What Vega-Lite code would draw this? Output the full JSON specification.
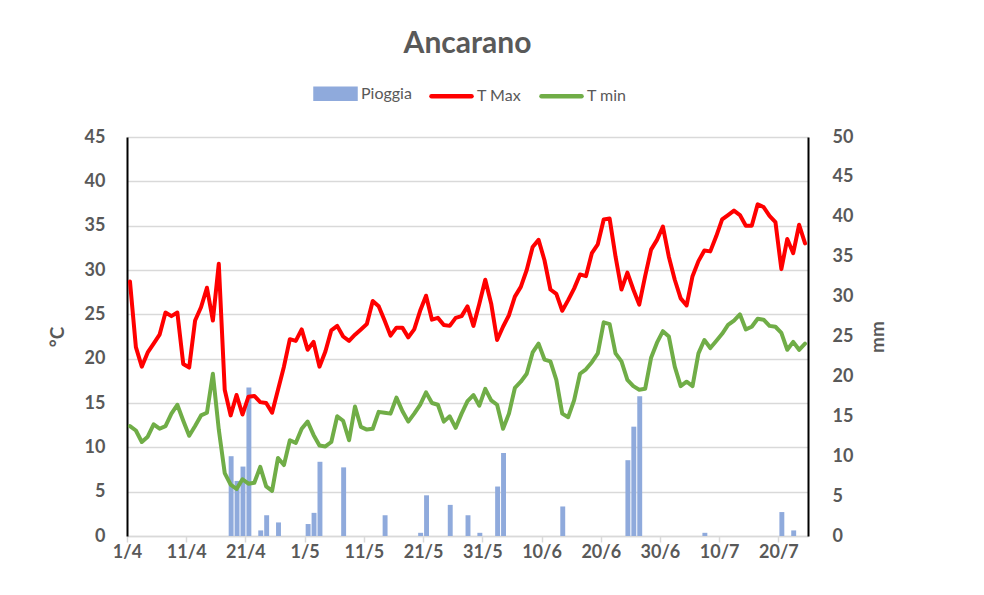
{
  "$schema": "https://vega.github.io/schema/vega-lite/v6.json",
  "width": 681,
  "height": 399,
  "autosize": {"type": "none"},
  "padding": {"left": 127, "top": 137, "right": 176, "bottom": 59},
  "background": "white",
  "config": {"font": "Lato", "view": {"stroke": null}},
  "title": {"text": "Ancarano", "fontSize": 30, "fontWeight": "bold", "color": "#595959", "anchor": "middle", "offset": 12, "font": "Lato"},
  "data": {"values": [
    {"date": "2023-04-01", "tmax": 28.7, "tmin": 12.4, "pioggia": 0},
    {"date": "2023-04-02", "tmax": 21.3, "tmin": 11.9, "pioggia": 0},
    {"date": "2023-04-03", "tmax": 19.1, "tmin": 10.6, "pioggia": 0},
    {"date": "2023-04-04", "tmax": 20.7, "tmin": 11.2, "pioggia": 0},
    {"date": "2023-04-05", "tmax": 21.7, "tmin": 12.6, "pioggia": 0},
    {"date": "2023-04-06", "tmax": 22.7, "tmin": 12.1, "pioggia": 0},
    {"date": "2023-04-07", "tmax": 25.2, "tmin": 12.4, "pioggia": 0},
    {"date": "2023-04-08", "tmax": 24.8, "tmin": 13.8, "pioggia": 0},
    {"date": "2023-04-09", "tmax": 25.2, "tmin": 14.8, "pioggia": 0},
    {"date": "2023-04-10", "tmax": 19.4, "tmin": 13.0, "pioggia": 0},
    {"date": "2023-04-11", "tmax": 19.0, "tmin": 11.3, "pioggia": 0},
    {"date": "2023-04-12", "tmax": 24.3, "tmin": 12.4, "pioggia": 0},
    {"date": "2023-04-13", "tmax": 25.8, "tmin": 13.6, "pioggia": 0},
    {"date": "2023-04-14", "tmax": 28.0, "tmin": 13.9, "pioggia": 0},
    {"date": "2023-04-15", "tmax": 24.3, "tmin": 18.3, "pioggia": 0},
    {"date": "2023-04-16", "tmax": 30.7, "tmin": 12.0, "pioggia": 0},
    {"date": "2023-04-17", "tmax": 16.5, "tmin": 7.1, "pioggia": 0},
    {"date": "2023-04-18", "tmax": 13.6, "tmin": 5.8, "pioggia": 10.0},
    {"date": "2023-04-19", "tmax": 15.9, "tmin": 5.3, "pioggia": 6.9},
    {"date": "2023-04-20", "tmax": 13.7, "tmin": 6.4, "pioggia": 8.7},
    {"date": "2023-04-21", "tmax": 15.7, "tmin": 5.9, "pioggia": 18.6},
    {"date": "2023-04-22", "tmax": 15.8, "tmin": 6.0, "pioggia": 0},
    {"date": "2023-04-23", "tmax": 15.1, "tmin": 7.8, "pioggia": 0.7},
    {"date": "2023-04-24", "tmax": 15.0, "tmin": 5.6, "pioggia": 2.6},
    {"date": "2023-04-25", "tmax": 13.9, "tmin": 5.1, "pioggia": 0},
    {"date": "2023-04-26", "tmax": 16.5, "tmin": 8.8, "pioggia": 1.7},
    {"date": "2023-04-27", "tmax": 19.1, "tmin": 8.0, "pioggia": 0},
    {"date": "2023-04-28", "tmax": 22.2, "tmin": 10.8, "pioggia": 0},
    {"date": "2023-04-29", "tmax": 22.0, "tmin": 10.5, "pioggia": 0},
    {"date": "2023-04-30", "tmax": 23.3, "tmin": 12.1, "pioggia": 0},
    {"date": "2023-05-01", "tmax": 21.0, "tmin": 12.9, "pioggia": 1.5},
    {"date": "2023-05-02", "tmax": 21.9, "tmin": 11.4, "pioggia": 2.9},
    {"date": "2023-05-03", "tmax": 19.1, "tmin": 10.2, "pioggia": 9.3},
    {"date": "2023-05-04", "tmax": 20.8, "tmin": 10.1, "pioggia": 0},
    {"date": "2023-05-05", "tmax": 23.2, "tmin": 10.6, "pioggia": 0},
    {"date": "2023-05-06", "tmax": 23.7, "tmin": 13.5, "pioggia": 0},
    {"date": "2023-05-07", "tmax": 22.5, "tmin": 13.0, "pioggia": 8.6},
    {"date": "2023-05-08", "tmax": 22.0, "tmin": 10.8, "pioggia": 0},
    {"date": "2023-05-09", "tmax": 22.7, "tmin": 14.6, "pioggia": 0},
    {"date": "2023-05-10", "tmax": 23.3, "tmin": 12.3, "pioggia": 0},
    {"date": "2023-05-11", "tmax": 23.9, "tmin": 12.0, "pioggia": 0},
    {"date": "2023-05-12", "tmax": 26.5, "tmin": 12.1, "pioggia": 0},
    {"date": "2023-05-13", "tmax": 25.9, "tmin": 14.0, "pioggia": 0},
    {"date": "2023-05-14", "tmax": 24.3, "tmin": 13.9, "pioggia": 2.6},
    {"date": "2023-05-15", "tmax": 22.6, "tmin": 13.8, "pioggia": 0},
    {"date": "2023-05-16", "tmax": 23.5, "tmin": 15.6, "pioggia": 0},
    {"date": "2023-05-17", "tmax": 23.5, "tmin": 14.1, "pioggia": 0},
    {"date": "2023-05-18", "tmax": 22.4, "tmin": 12.9, "pioggia": 0},
    {"date": "2023-05-19", "tmax": 23.3, "tmin": 13.8, "pioggia": 0},
    {"date": "2023-05-20", "tmax": 25.4, "tmin": 14.8, "pioggia": 0.4},
    {"date": "2023-05-21", "tmax": 27.1, "tmin": 16.2, "pioggia": 5.1},
    {"date": "2023-05-22", "tmax": 24.4, "tmin": 15.0, "pioggia": 0},
    {"date": "2023-05-23", "tmax": 24.6, "tmin": 14.8, "pioggia": 0},
    {"date": "2023-05-24", "tmax": 23.8, "tmin": 12.9, "pioggia": 0},
    {"date": "2023-05-25", "tmax": 23.7, "tmin": 13.5, "pioggia": 3.9},
    {"date": "2023-05-26", "tmax": 24.6, "tmin": 12.2, "pioggia": 0},
    {"date": "2023-05-27", "tmax": 24.8, "tmin": 13.8, "pioggia": 0},
    {"date": "2023-05-28", "tmax": 25.9, "tmin": 15.2, "pioggia": 2.6},
    {"date": "2023-05-29", "tmax": 23.7, "tmin": 15.9, "pioggia": 0},
    {"date": "2023-05-30", "tmax": 26.2, "tmin": 14.7, "pioggia": 0.4},
    {"date": "2023-05-31", "tmax": 28.9, "tmin": 16.6, "pioggia": 0},
    {"date": "2023-06-01", "tmax": 26.2, "tmin": 15.3, "pioggia": 0},
    {"date": "2023-06-02", "tmax": 22.1, "tmin": 14.8, "pioggia": 6.2},
    {"date": "2023-06-03", "tmax": 23.6, "tmin": 12.1, "pioggia": 10.4},
    {"date": "2023-06-04", "tmax": 24.9, "tmin": 13.8, "pioggia": 0},
    {"date": "2023-06-05", "tmax": 27.0, "tmin": 16.7, "pioggia": 0},
    {"date": "2023-06-06", "tmax": 28.1, "tmin": 17.4, "pioggia": 0},
    {"date": "2023-06-07", "tmax": 30.0, "tmin": 18.3, "pioggia": 0},
    {"date": "2023-06-08", "tmax": 32.6, "tmin": 20.7, "pioggia": 0},
    {"date": "2023-06-09", "tmax": 33.4, "tmin": 21.7, "pioggia": 0},
    {"date": "2023-06-10", "tmax": 31.1, "tmin": 19.9, "pioggia": 0},
    {"date": "2023-06-11", "tmax": 27.8, "tmin": 19.7, "pioggia": 0},
    {"date": "2023-06-12", "tmax": 27.3, "tmin": 17.6, "pioggia": 0},
    {"date": "2023-06-13", "tmax": 25.4, "tmin": 13.8, "pioggia": 3.7},
    {"date": "2023-06-14", "tmax": 26.6, "tmin": 13.4, "pioggia": 0},
    {"date": "2023-06-15", "tmax": 27.9, "tmin": 15.3, "pioggia": 0},
    {"date": "2023-06-16", "tmax": 29.5, "tmin": 18.3, "pioggia": 0},
    {"date": "2023-06-17", "tmax": 29.3, "tmin": 18.8, "pioggia": 0},
    {"date": "2023-06-18", "tmax": 31.9, "tmin": 19.6, "pioggia": 0},
    {"date": "2023-06-19", "tmax": 32.9, "tmin": 20.6, "pioggia": 0},
    {"date": "2023-06-20", "tmax": 35.7, "tmin": 24.1, "pioggia": 0},
    {"date": "2023-06-21", "tmax": 35.8, "tmin": 23.9, "pioggia": 0},
    {"date": "2023-06-22", "tmax": 31.5, "tmin": 20.6, "pioggia": 0},
    {"date": "2023-06-23", "tmax": 27.8, "tmin": 19.7, "pioggia": 0},
    {"date": "2023-06-24", "tmax": 29.7, "tmin": 17.6, "pioggia": 9.5},
    {"date": "2023-06-25", "tmax": 27.8, "tmin": 16.9, "pioggia": 13.7},
    {"date": "2023-06-26", "tmax": 26.1, "tmin": 16.5, "pioggia": 17.5},
    {"date": "2023-06-27", "tmax": 29.3, "tmin": 16.6, "pioggia": 0},
    {"date": "2023-06-28", "tmax": 32.3, "tmin": 20.1, "pioggia": 0},
    {"date": "2023-06-29", "tmax": 33.4, "tmin": 21.8, "pioggia": 0},
    {"date": "2023-06-30", "tmax": 34.9, "tmin": 23.1, "pioggia": 0},
    {"date": "2023-07-01", "tmax": 31.5, "tmin": 22.5, "pioggia": 0},
    {"date": "2023-07-02", "tmax": 28.9, "tmin": 19.1, "pioggia": 0},
    {"date": "2023-07-03", "tmax": 26.8, "tmin": 16.9, "pioggia": 0},
    {"date": "2023-07-04", "tmax": 26.0, "tmin": 17.4, "pioggia": 0},
    {"date": "2023-07-05", "tmax": 29.3, "tmin": 16.9, "pioggia": 0},
    {"date": "2023-07-06", "tmax": 31.0, "tmin": 20.6, "pioggia": 0},
    {"date": "2023-07-07", "tmax": 32.2, "tmin": 22.1, "pioggia": 0.4},
    {"date": "2023-07-08", "tmax": 32.1, "tmin": 21.2, "pioggia": 0},
    {"date": "2023-07-09", "tmax": 33.8, "tmin": 22.0, "pioggia": 0},
    {"date": "2023-07-10", "tmax": 35.7, "tmin": 22.8, "pioggia": 0},
    {"date": "2023-07-11", "tmax": 36.2, "tmin": 23.8, "pioggia": 0},
    {"date": "2023-07-12", "tmax": 36.7, "tmin": 24.3, "pioggia": 0},
    {"date": "2023-07-13", "tmax": 36.2, "tmin": 25.0, "pioggia": 0},
    {"date": "2023-07-14", "tmax": 35.0, "tmin": 23.3, "pioggia": 0},
    {"date": "2023-07-15", "tmax": 35.0, "tmin": 23.6, "pioggia": 0},
    {"date": "2023-07-16", "tmax": 37.4, "tmin": 24.5, "pioggia": 0},
    {"date": "2023-07-17", "tmax": 37.1, "tmin": 24.4, "pioggia": 0},
    {"date": "2023-07-18", "tmax": 36.1, "tmin": 23.7, "pioggia": 0},
    {"date": "2023-07-19", "tmax": 35.4, "tmin": 23.6, "pioggia": 0},
    {"date": "2023-07-20", "tmax": 30.1, "tmin": 22.9, "pioggia": 3.0},
    {"date": "2023-07-21", "tmax": 33.5, "tmin": 21.0, "pioggia": 0},
    {"date": "2023-07-22", "tmax": 31.9, "tmin": 21.9, "pioggia": 0.7},
    {"date": "2023-07-23", "tmax": 35.1, "tmin": 21.0, "pioggia": 0},
    {"date": "2023-07-24", "tmax": 33.0, "tmin": 21.7, "pioggia": 0}
  ]},
  "layer": [
    {
      "mark": {"type": "bar", "color": "#8FAADC"},
      "encoding": {
        "x": {
          "field": "date", "type": "temporal", "timeUnit": "utcyearmonthdate",
          "scale": {"type": "utc", "domain": [{"year": 2023, "month": 4, "date": 1, "utc": true}, {"year": 2023, "month": 7, "date": 25, "utc": true}], "nice": false},
          "axis": {
            "title": null,
            "values": [
              {"year": 2023, "month": 4, "date": 1, "utc": true},
              {"year": 2023, "month": 4, "date": 11, "utc": true},
              {"year": 2023, "month": 4, "date": 21, "utc": true},
              {"year": 2023, "month": 5, "date": 1, "utc": true},
              {"year": 2023, "month": 5, "date": 11, "utc": true},
              {"year": 2023, "month": 5, "date": 21, "utc": true},
              {"year": 2023, "month": 5, "date": 31, "utc": true},
              {"year": 2023, "month": 6, "date": 10, "utc": true},
              {"year": 2023, "month": 6, "date": 20, "utc": true},
              {"year": 2023, "month": 6, "date": 30, "utc": true},
              {"year": 2023, "month": 7, "date": 10, "utc": true},
              {"year": 2023, "month": 7, "date": 20, "utc": true}
            ],
            "labelExpr": "utcFormat(datum.value, '%-d/%-m')",
            "grid": false, "labelFontSize": 18, "labelFontWeight": "bold", "labelColor": "#595959",
            "domainColor": "#D9D9D9", "domainWidth": 1.5, "tickColor": "#D9D9D9", "tickWidth": 1.5, "tickSize": 6,
            "labelPadding": 1, "labelFlush": false, "labelOverlap": false
          }
        },
        "y": {
          "field": "pioggia", "type": "quantitative",
          "scale": {"domain": [0, 50], "nice": false},
          "axis": {
            "orient": "right", "title": "mm", "values": [0, 5, 10, 15, 20, 25, 30, 35, 40, 45, 50],
            "grid": false, "ticks": false, "domainColor": "#000000", "domainWidth": 2,
            "labelPadding": 24, "labelFontSize": 18, "labelFontWeight": "bold", "labelColor": "#595959",
            "titleFontSize": 19, "titleFontWeight": "bold", "titleColor": "#595959", "titleAngle": 270, "titleBaseline": "top", "titlePadding": 16
          }
        },
        "color": {
          "datum": "Pioggia", "type": "nominal",
          "scale": {"domain": ["Pioggia", "T Max", "T min"], "range": ["#8FAADC", "#FF0000", "#70AD47"]},
          "legend": {
            "orient": "none", "legendX": 186, "legendY": -66, "direction": "horizontal", "title": null,
            "symbolSize": 1600, "labelFontSize": 16, "labelColor": "#595959", "labelOffset": 3, "columnPadding": 10,
            "encode": {"symbols": {"update": {
              "shape": {"signal": "datum.value === 'Pioggia' ? 'M-1,-0.25H1V0.25H-1Z' : 'stroke'"},
              "fill": {"signal": "datum.value === 'Pioggia' ? '#8FAADC' : 'transparent'"},
              "stroke": {"signal": "datum.value === 'T Max' ? '#FF0000' : (datum.value === 'T min' ? '#70AD47' : 'transparent')"},
              "strokeWidth": {"value": 4.5},
              "strokeCap": {"value": "round"},
              "opacity": {"value": 1}
            }}}
          }
        }
      }
    },
    {
      "layer": [
        {
          "mark": {"type": "line", "strokeWidth": 4, "strokeJoin": "round", "strokeCap": "round"},
          "encoding": {
            "x": {"field": "date", "type": "temporal", "timeUnit": "utcyearmonthdate", "bandPosition": 0.5},
            "y": {
              "field": "tmax", "type": "quantitative",
              "scale": {"domain": [0, 45], "nice": false},
              "axis": {
                "orient": "left", "title": "°C", "values": [0, 5, 10, 15, 20, 25, 30, 35, 40, 45],
                "grid": true, "gridColor": "#D9D9D9", "gridWidth": 1.5, "ticks": false,
                "domainColor": "#000000", "domainWidth": 2,
                "labelPadding": 22, "labelFontSize": 18, "labelFontWeight": "bold", "labelColor": "#595959",
                "titleFontSize": 19, "titleFontWeight": "bold", "titleColor": "#595959", "titlePadding": 17
              }
            },
            "color": {"datum": "T Max", "type": "nominal"}
          }
        },
        {
          "mark": {"type": "line", "strokeWidth": 4, "strokeJoin": "round", "strokeCap": "round"},
          "encoding": {
            "x": {"field": "date", "type": "temporal", "timeUnit": "utcyearmonthdate", "bandPosition": 0.5},
            "y": {"field": "tmin", "type": "quantitative"},
            "color": {"datum": "T min", "type": "nominal"}
          }
        }
      ]
    }
  ],
  "resolve": {"scale": {"y": "independent"}}
}
